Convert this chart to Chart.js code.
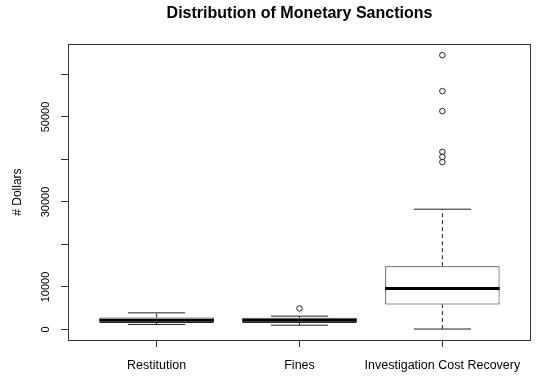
<!DOCTYPE html>
<html>
<head>
<meta charset="utf-8">
<script src="https://cdn.jsdelivr.net/npm/chart.js@4/dist/chart.umd.min.js"></script>
<style>
  html, body { margin: 0; padding: 0; background: #ffffff; }
  #wrap { width: 536px; height: 376px; }
</style>
</head>
<body>
<div id="wrap"><canvas id="c" width="536" height="376"></canvas></div>
<script>
// ---- data ----
const categories = ['Restitution', 'Fines', 'Investigation Cost Recovery'];
const positions = [1, 2, 3];
const whiskerLow = [1180, 1010, 100];
const quartile1 = [1550, 1550, 5880];
const medians = [2190, 2190, 9650];
const quartile3 = [2820, 2730, 14890];
const whiskerHigh = [3910, 3130, 28300];
const outlierValues = [[], [4940], [39370, 40610, 41790, 51370, 56070, 64540]];
const yTicks = [0, 10000, 20000, 30000, 40000, 50000, 60000];
const yTickLabels = ['0', '10000', '', '30000', '', '50000', ''];

// ---- axis ranges like R (4% extension) ----
const allVals = whiskerLow.concat(whiskerHigh, ...outlierValues);
const dMin = Math.min(...allVals), dMax = Math.max(...allVals);
const yPad = (dMax - dMin) * 0.04;
const xMin = 0.5 - 0.12, xMax = categories.length + 0.5 + 0.12;

const INK = '#222222';
const FONT = "'Liberation Sans', Arial, sans-serif";

const datasets = [];
datasets.push({
  type: 'bar',
  data: positions.map((p, i) => ({ x: p, y: [quartile1[i], quartile3[i]] })),
  backgroundColor: '#ffffff',
  borderColor: INK,
  borderWidth: 1,
  borderSkipped: false,
  barPercentage: 0.8,
  categoryPercentage: 1,
  order: 10
});
function seg(x1, y1, x2, y2, extra) {
  return Object.assign({
    type: 'line',
    data: [{ x: x1, y: y1 }, { x: x2, y: y2 }],
    borderColor: INK,
    borderWidth: 1,
    pointRadius: 0,
    fill: false,
    order: 1
  }, extra || {});
}
positions.forEach((p, i) => {
  datasets.push(seg(p, quartile3[i], p, whiskerHigh[i], { borderDash: [4, 3] }));
  datasets.push(seg(p, whiskerLow[i], p, quartile1[i], { borderDash: [4, 3] }));
  datasets.push(seg(p - 0.2, whiskerHigh[i], p + 0.2, whiskerHigh[i]));
  datasets.push(seg(p - 0.2, whiskerLow[i], p + 0.2, whiskerLow[i]));
  datasets.push(seg(p - 0.4, medians[i], p + 0.4, medians[i], { borderWidth: 3, borderColor: '#000000', order: 0 }));
});
const outlierPoints = [];
positions.forEach((p, i) => outlierValues[i].forEach(v => outlierPoints.push({ x: p, y: v })));
datasets.push({
  type: 'line',
  data: outlierPoints,
  showLine: false,
  pointRadius: 2.8,
  pointBackgroundColor: 'rgba(0,0,0,0)',
  pointBorderColor: INK,
  pointBorderWidth: 1,
  order: 0
});

const framePlugin = {
  id: 'frame',
  afterDraw(chart) {
    const a = chart.chartArea, ctx = chart.ctx;
    ctx.save();
    ctx.strokeStyle = '#333333';
    ctx.lineWidth = 1;
    ctx.strokeRect(Math.round(a.left) + 0.5, Math.round(a.top) + 0.5,
                   Math.round(a.right - a.left) - 1, Math.round(a.bottom - a.top));
    ctx.restore();
  }
};

new Chart(document.getElementById('c'), {
  type: 'bar',
  data: { datasets },
  plugins: [framePlugin],
  options: {
    responsive: false,
    devicePixelRatio: 1,
    animation: false,
    layout: { padding: { left: 0, right: 4, top: 0, bottom: 0 } },
    plugins: {
      legend: { display: false },
      tooltip: { enabled: false },
      title: {
        display: true,
        text: 'Distribution of Monetary Sanctions',
        fullSize: false,
        color: '#000000',
        font: { family: FONT, size: 16, weight: 'bold' },
        padding: { top: 4, bottom: 21 }
      }
    },
    scales: {
      x: {
        type: 'linear',
        min: xMin,
        max: xMax,
        offset: false,
        afterFit(s) { s.height = 36; },
        afterBuildTicks(s) { s.ticks = positions.map(v => ({ value: v })); },
        grid: { display: true, offset: false, drawOnChartArea: false, drawTicks: true, tickLength: 7, color: '#333333' },
        border: { display: false },
        ticks: {
          autoSkip: false,
          maxRotation: 0,
          minRotation: 0,
          padding: 11,
          color: '#000000',
          font: { family: FONT, size: 12.5 },
          callback(v) { return categories[positions.indexOf(v)]; }
        }
      },
      y: {
        type: 'linear',
        min: dMin - yPad,
        max: dMax + yPad,
        afterFit(s) { s.width = 68; },
        afterBuildTicks(s) { s.ticks = yTicks.map(v => ({ value: v })); },
        grid: { display: true, drawOnChartArea: false, drawTicks: true, tickLength: 7, color: '#333333' },
        border: { display: false },
        title: {
          display: true,
          text: '# Dollars',
          color: '#000000',
          font: { family: FONT, size: 12 },
          padding: { top: 10, bottom: 0 }
        },
        ticks: {
          autoSkip: false,
          minRotation: 90,
          maxRotation: 90,
          crossAlign: 'center',
          padding: 0,
          color: '#000000',
          font: { family: FONT, size: 11 },
          callback(v) { const k = yTicks.indexOf(v); return k >= 0 ? yTickLabels[k] : ''; }
        }
      }
    }
  }
});
</script>
</body>
</html>
